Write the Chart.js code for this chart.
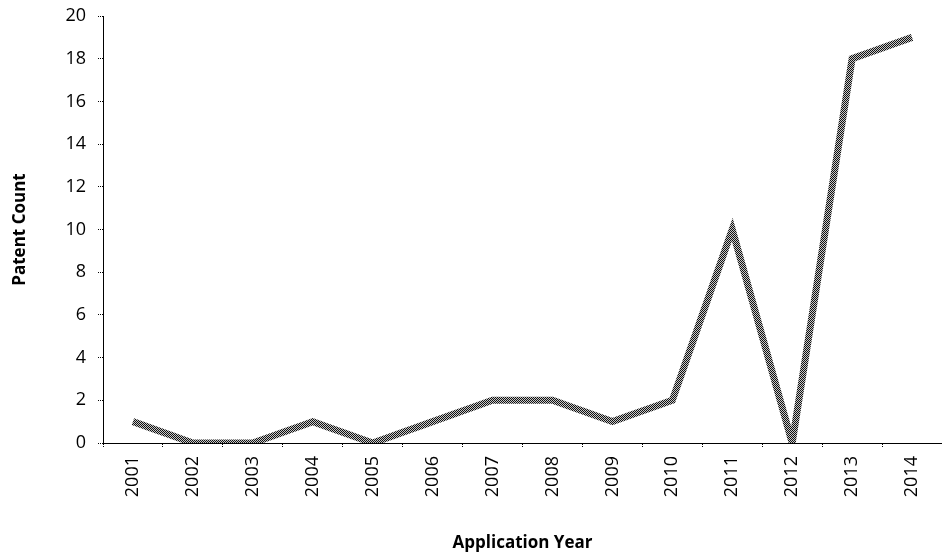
<!DOCTYPE html>
<html>
<head>
<meta charset="utf-8">
<script src="https://cdn.jsdelivr.net/npm/chart.js@4"></script>
<style>
  html, body { margin: 0; padding: 0; background: #fff; }
  canvas { display: block; }
</style>
</head>
<body>
<canvas id="patentChart" width="942" height="555"></canvas>
<script>
// values
const years = ['2001', '2002', '2003', '2004', '2005', '2006', '2007', '2008', '2009', '2010', '2011', '2012', '2013', '2014'];
const patentCounts = [1, 0, 0, 1, 0, 1, 2, 2, 1, 2, 10, 0, 18, 19];
const yTicks = [0, 2, 4, 6, 8, 10, 12, 14, 16, 18, 20];

// checkered stroke like the scanned figure
function checkerPattern() {
    const c = document.createElement('canvas');
    c.width = 2; c.height = 2;
    const g = c.getContext('2d');
    g.fillStyle = '#c8c8c8';
    g.fillRect(0, 0, 2, 2);
    g.fillStyle = '#111';
    g.fillRect(0, 0, 1, 1);
    g.fillRect(1, 1, 1, 1);
    return g.createPattern(c, 'repeat');
}

const font = "'Open Sans', 'Liberation Sans', sans-serif";
const ctx = document.getElementById('patentChart').getContext('2d');
new Chart(ctx, {
    type: 'line',
    data: {
        labels: years,
        datasets: [{
            label: 'Patent Count',
            data: patentCounts,
            borderColor: checkerPattern(),
            borderWidth: 7,
            pointRadius: 0,
            tension: 0,
            fill: false
        }]
    },
    options: {
        responsive: false,
        animation: false,
        layout: { padding: { top: 16, right: 0, left: 10, bottom: 2 } },
        plugins: {
            legend: { display: false },
            tooltip: { enabled: false }
        },
        scales: {
            x: {
                offset: true,
                grid: {
                    offset: true,
                    drawOnChartArea: false,
                    color: '#000',
                    tickLength: 5,
                    tickBorderDash: [1, 1]
                },
                border: { color: '#000', dash: [1, 1], width: 1 },
                ticks: {
                    color: '#000',
                    maxRotation: 90,
                    minRotation: 90,
                    font: { family: font, size: 18 },
                    padding: 8
                },
                title: {
                    display: true,
                    text: 'Application Year',
                    color: '#000',
                    font: { family: font, size: 17, weight: 'bold' },
                    padding: { top: 20, bottom: 0 }
                },
                afterFit: s => { s.height = 110; s.paddingLeft = 0; s.paddingRight = 0; }
            },
            y: {
                min: 0,
                max: 20,
                afterBuildTicks: s => { s.ticks = yTicks.map(v => ({ value: v })); },
                grid: {
                    drawOnChartArea: false,
                    color: '#000',
                    tickLength: 5,
                    tickBorderDash: [1, 1]
                },
                border: { color: '#000', dash: [1, 1], width: 1 },
                ticks: {
                    color: '#000',
                    font: { family: font, size: 18 },
                    padding: 12
                },
                title: {
                    display: true,
                    text: 'Patent Count',
                    color: '#000',
                    font: { family: font, size: 17, weight: 'bold' },
                    padding: { top: 0, bottom: 20 }
                },
                afterFit: s => { s.width = 93; s.paddingTop = 0; s.paddingBottom = 0; }
            }
        }
    }
});
</script>
</body>
</html>
